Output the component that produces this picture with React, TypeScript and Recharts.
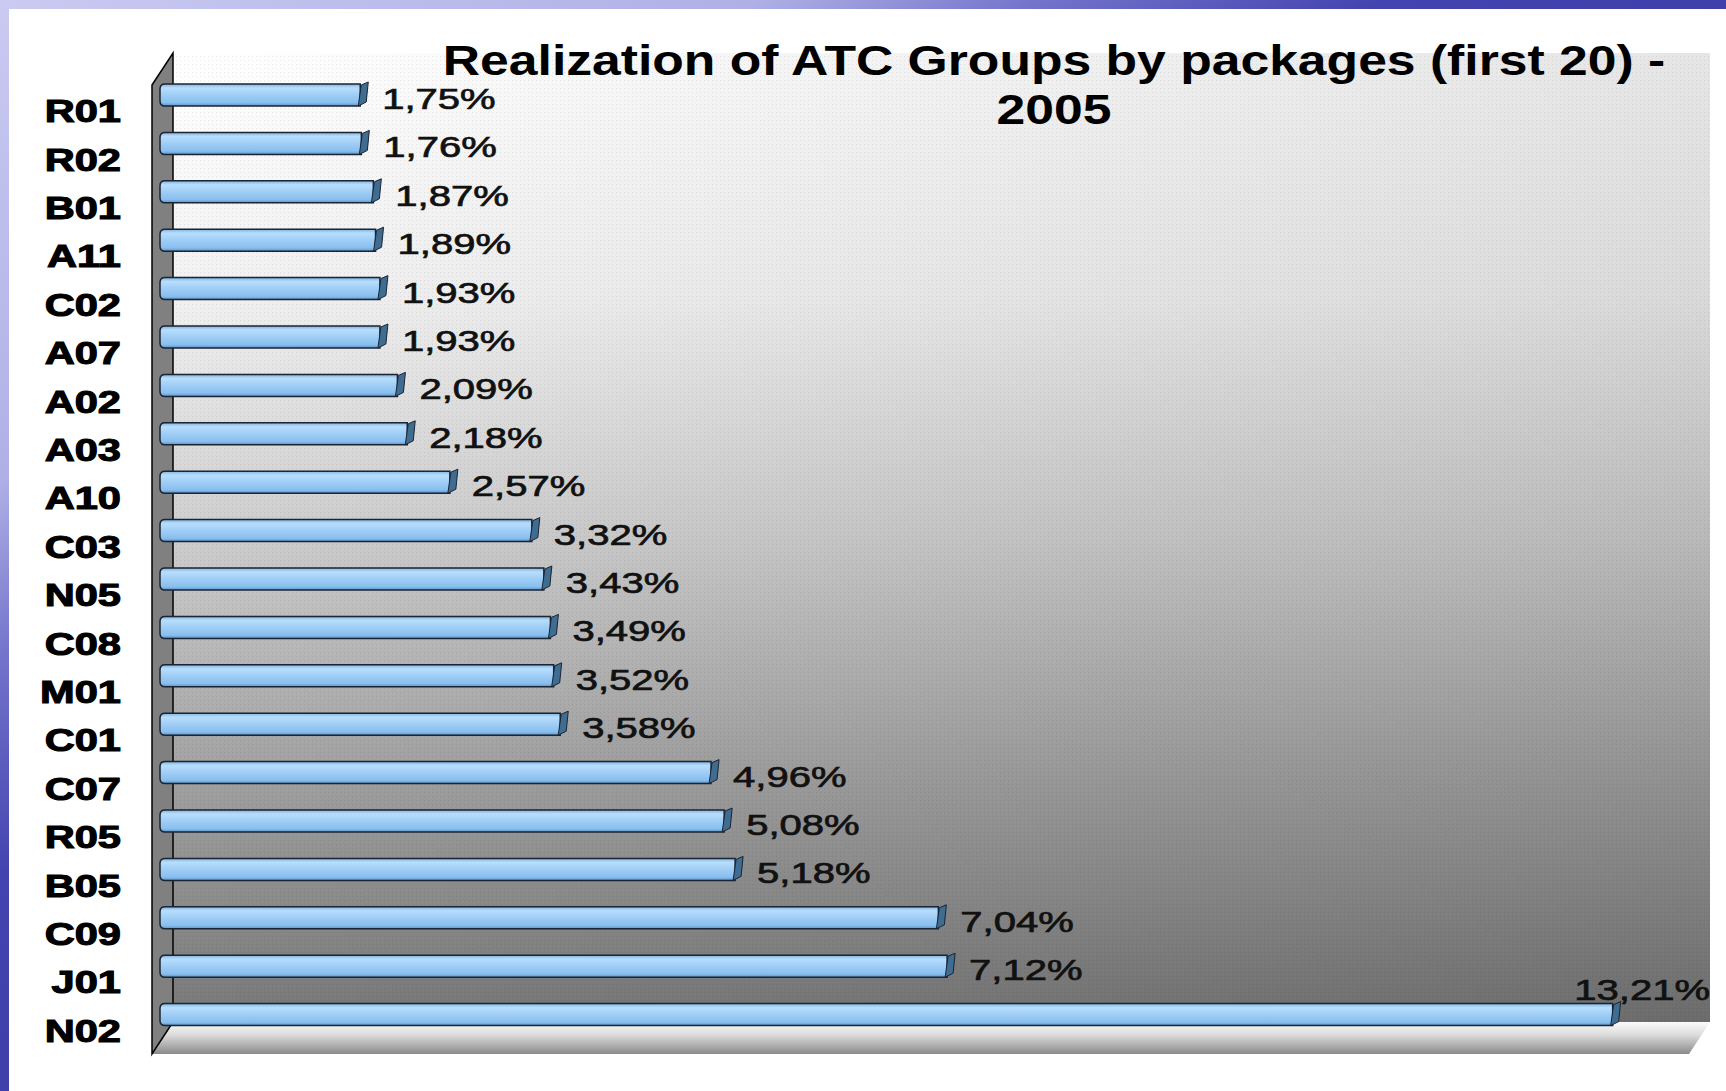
import { BarChart, Bar, XAxis, YAxis, LabelList } from 'recharts';

const categories = ['R01', 'R02', 'B01', 'A11', 'C02', 'A07', 'A02', 'A03', 'A10', 'C03', 'N05', 'C08', 'M01', 'C01', 'C07', 'R05', 'B05', 'C09', 'J01', 'N02'];
const shares = [1.75, 1.76, 1.87, 1.89, 1.93, 1.93, 2.09, 2.18, 2.57, 3.32, 3.43, 3.49, 3.52, 3.58, 4.96, 5.08, 5.18, 7.04, 7.12, 13.21];
const titleLines = ['Realization of ATC Groups by packages (first 20) -', '2005'];
const xDomain = [0, 14];

const data = categories.map((name, i) => ({ name, value: shares[i] }));

const W = 1726;
const H = 1091;
const AXIS_W = 100;
const margin = { top: 71, right: 27, bottom: 52, left: 69 };
const plot = {
  left: margin.left + AXIS_W,
  right: W - margin.right,
  top: margin.top,
  bottom: H - margin.bottom,
};
const FONT = '"Liberation Sans", Arial, sans-serif';

// 3D look: back wall sits up/right of the bars, floor and side wall in front
function Backdrop() {
  const bl = plot.left + 4;
  const br = plot.right + 11;
  const bt = plot.top - 18;
  const bb = plot.bottom - 17;
  const dx = 21;
  const dy = 32;
  return (
    <svg width={W} height={H} style={{ position: 'absolute', left: 0, top: 0 }}>
      <defs>
        <linearGradient id="wall" x1="0" y1="0" x2="0" y2="1">
          <stop offset="0" stopColor="#ffffff" />
          <stop offset="0.25" stopColor="#f1f1f1" />
          <stop offset="0.5" stopColor="#cdcdcd" />
          <stop offset="0.75" stopColor="#a0a0a0" />
          <stop offset="1" stopColor="#787878" />
        </linearGradient>
        <linearGradient id="wallShade" x1="0" y1="0" x2="1" y2="0">
          <stop offset="0" stopColor="#000" stopOpacity="0" />
          <stop offset="1" stopColor="#000" stopOpacity="0.1" />
        </linearGradient>
        <linearGradient id="floor" x1="0" y1="0" x2="0" y2="1">
          <stop offset="0" stopColor="#fbfbfb" />
          <stop offset="0.4" stopColor="#dcdcdc" />
          <stop offset="1" stopColor="#8a8a8a" />
        </linearGradient>
        <linearGradient id="tube" x1="0" y1="0" x2="0" y2="1">
          <stop offset="0" stopColor="#7fb2e0" />
          <stop offset="0.18" stopColor="#b8defd" />
          <stop offset="0.55" stopColor="#9ccbf4" />
          <stop offset="0.85" stopColor="#88bfef" />
          <stop offset="1" stopColor="#5d93c6" />
        </linearGradient>
        <pattern id="dots" width="4" height="4" patternUnits="userSpaceOnUse">
          <rect width="1" height="1" fill="rgba(0,0,0,0.08)" />
        </pattern>
      </defs>
      <rect x={bl} y={bt} width={br - bl} height={bb - bt} fill="url(#wall)" />
      <rect x={bl} y={bt} width={br - bl} height={bb - bt} fill="url(#wallShade)" />
      <rect x={bl} y={bt} width={br - bl} height={bb - bt} fill="url(#dots)" />
      <polygon
        points={`${bl},${bb} ${br},${bb} ${br - dx},${bb + dy} ${bl - dx},${bb + dy}`}
        fill="url(#floor)"
      />
      <polygon
        points={`${bl - dx},${bt + dy} ${bl},${bt} ${bl},${bb} ${bl - dx},${bb + dy}`}
        fill="#808080"
        stroke="#000"
        strokeWidth={1.5}
      />
      {titleLines.map((line, i) => (
        <text
          key={line}
          transform={`translate(1054,${75 + i * 49}) scale(1.23,1)`}
          textAnchor="middle"
          fontFamily={FONT}
          fontWeight={700}
          fontSize={42}
          fill="#000"
        >
          {line}
        </text>
      ))}
    </svg>
  );
}

function TubeBar(props: any) {
  const { x, y, width, height } = props;
  const x0 = x - 9;
  const x1 = x + width;
  const r = 5;
  const yb = y + height;
  return (
    <g>
      <path
        d={`M${x0 + r},${y} L${x1},${y} L${x1},${yb} L${x0 + r},${yb} Q${x0},${yb} ${x0},${yb - r} L${x0},${y + r} Q${x0},${y} ${x0 + r},${y} Z`}
        fill="url(#tube)"
        stroke="#1b2433"
        strokeWidth={1.5}
      />
      <path
        d={`M${x1 - 2},${yb} L${x1 + 1},${y + 1} L${x1 + 8},${y - 2} L${x1 + 6},${yb - 4} Z`}
        fill="#3f6c91"
        stroke="#1b2433"
        strokeWidth={1}
      />
    </g>
  );
}

function ValueLabel(props: any) {
  const { x, y, width, height, value } = props;
  const text = Number(value).toFixed(2).replace('.', ',') + '%';
  const end = x + width;
  const cy = y + height / 2;
  const fits = end + 22 + 140 < W - 10;
  const tx = fits ? end + 22 : plot.right + 11;
  const ty = fits ? cy + 14 : cy - 15;
  return (
    <text
      transform={`translate(${tx},${ty}) scale(1.38,1)`}
      textAnchor={fits ? 'start' : 'end'}
      fontFamily={FONT}
      fontSize={29}
      fill="#111"
      stroke="#111"
      strokeWidth={0.7}
    >
      {text}
    </text>
  );
}

function CategoryTick(props: any) {
  const { y, payload } = props;
  return (
    <text
      transform={`translate(121,${y + 27}) scale(1.3,1)`}
      textAnchor="end"
      fontFamily={FONT}
      fontWeight={700}
      fontSize={32}
      fill="#000"
      stroke="#000"
      strokeWidth={1.1}
    >
      {payload.value}
    </text>
  );
}

export default function App() {
  return (
    <div
      style={{
        position: 'absolute',
        left: 0,
        top: 0,
        width: W,
        height: H,
        overflow: 'hidden',
        background: 'linear-gradient(to bottom right, #cacaf2 0%, #b0b0e6 22%, #7474cc 30%, #4444b0 40%, #2a2a92 100%)',
      }}
    >
      <div style={{ position: 'absolute', left: 9, top: 9, right: 0, bottom: 0, background: '#fff' }} />
      <Backdrop />
      <div style={{ position: 'absolute', left: 0, top: 0 }}>
        <BarChart width={W} height={H} data={data} layout="vertical" margin={margin}>
          <XAxis type="number" domain={xDomain} hide />
          <YAxis
            type="category"
            dataKey="name"
            width={AXIS_W}
            axisLine={false}
            tickLine={false}
            interval={0}
            tick={<CategoryTick />}
          />
          <Bar dataKey="value" barSize={22} shape={<TubeBar />} isAnimationActive={false}>
            <LabelList dataKey="value" content={<ValueLabel />} />
          </Bar>
        </BarChart>
      </div>
    </div>
  );
}
